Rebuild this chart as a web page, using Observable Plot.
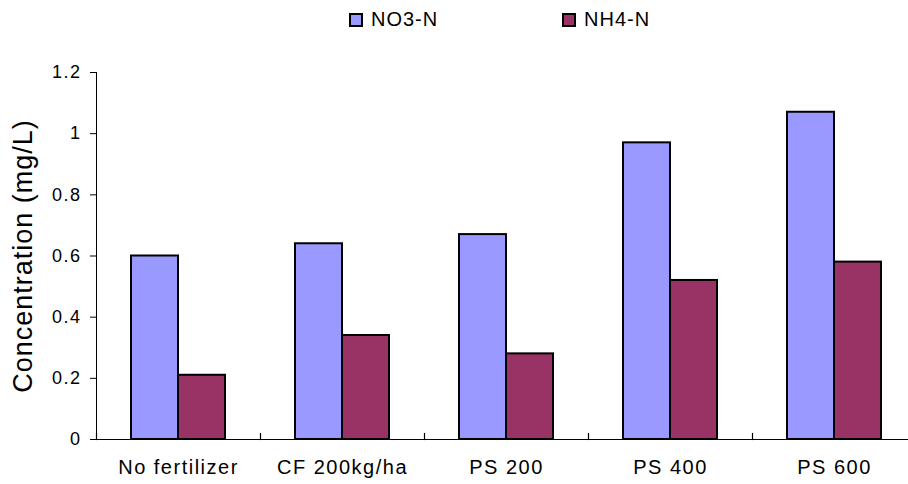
<!DOCTYPE html>
<html>
<head>
<meta charset="utf-8">
<script src="https://cdn.jsdelivr.net/npm/d3@7"></script>
<script src="https://cdn.jsdelivr.net/npm/@observablehq/plot@0.6"></script>
<style>
  body { margin: 0; background: #fff; font-family: "Liberation Sans", Arial, sans-serif; }
  #legend { position: relative; width: 908px; height: 40px; }
  .item { position: absolute; top: 8px; display: flex; align-items: center; font-size: 20px; letter-spacing: 1px; color: #000; line-height: 23px; }
  .sw { width: 10px; height: 10px; border: 2px solid #000; margin-right: 8px; }
  #chart svg [aria-label="y-axis tick label"] text { font-size: 18px; letter-spacing: 1.5px; }
  #chart svg [aria-label="fx-axis tick label"] text { font-size: 20px; letter-spacing: 1.5px; }
  #chart svg [aria-label="y-axis label"] text { font-size: 27px; letter-spacing: 1px; }
</style>
</head>
<body>
<div id="legend"></div>
<div id="chart"></div>
<script>
// Treatments, series and measured concentrations (mg/L)
const categories = ["No fertilizer", "CF 200kg/ha", "PS 200", "PS 400", "PS 600"];
const series = ["NO3-N", "NH4-N"];
const no3 = [0.60, 0.64, 0.67, 0.97, 1.07];
const nh4 = [0.21, 0.34, 0.28, 0.52, 0.58];
const yTicks = [0, 0.2, 0.4, 0.6, 0.8, 1, 1.2];
const colors = ["#9999ff", "#993366"];

const rows = categories.flatMap((c, i) => [
  {category: c, series: series[0], value: no3[i]},
  {category: c, series: series[1], value: nh4[i]}
]);

// Legend above the plot
const legend = document.getElementById("legend");
const legendLeft = [349, 562];
series.forEach((s, i) => {
  const item = document.createElement("div");
  item.className = "item";
  item.style.left = legendLeft[i] + "px";
  const sw = document.createElement("span");
  sw.className = "sw";
  sw.style.background = colors[i];
  const label = document.createElement("span");
  label.textContent = s;
  item.append(sw, label);
  legend.append(item);
});

const chart = Plot.plot({
  width: 908,
  height: 444,
  marginLeft: 96,
  marginRight: -8,
  marginTop: 32,
  marginBottom: 45,
  style: {fontFamily: "'Liberation Sans', Arial, sans-serif", fontSize: "20px", color: "#000", background: "#fff", overflow: "visible"},
  fx: {domain: categories, padding: 0, label: null, tickSize: 0, tickPadding: 20, axis: "bottom"},
  x: {domain: series, paddingInner: 0, paddingOuter: 0.73, axis: null},
  y: {
    domain: [0, 1.2],
    ticks: yTicks,
    tickFormat: d => String(d),
    tickSize: 6,
    tickPadding: 9,
    line: true,
    label: "Concentration (mg/L)",
    labelAnchor: "center",
    labelArrow: false,
    labelOffset: 84
  },
  color: {domain: series, range: colors},
  marks: [
    Plot.barY(rows, {fx: "category", x: "series", y: "value", fill: "series", stroke: "#000", strokeWidth: 2}),
    Plot.ruleY([0], {stroke: "#000", strokeWidth: 1.2}),
    // short separator ticks at the left edge of each category band
    Plot.frame({anchor: "left", insetTop: 361, stroke: "#000", strokeWidth: 1.2})
  ]
});
document.getElementById("chart").append(chart);
</script>
</body>
</html>
